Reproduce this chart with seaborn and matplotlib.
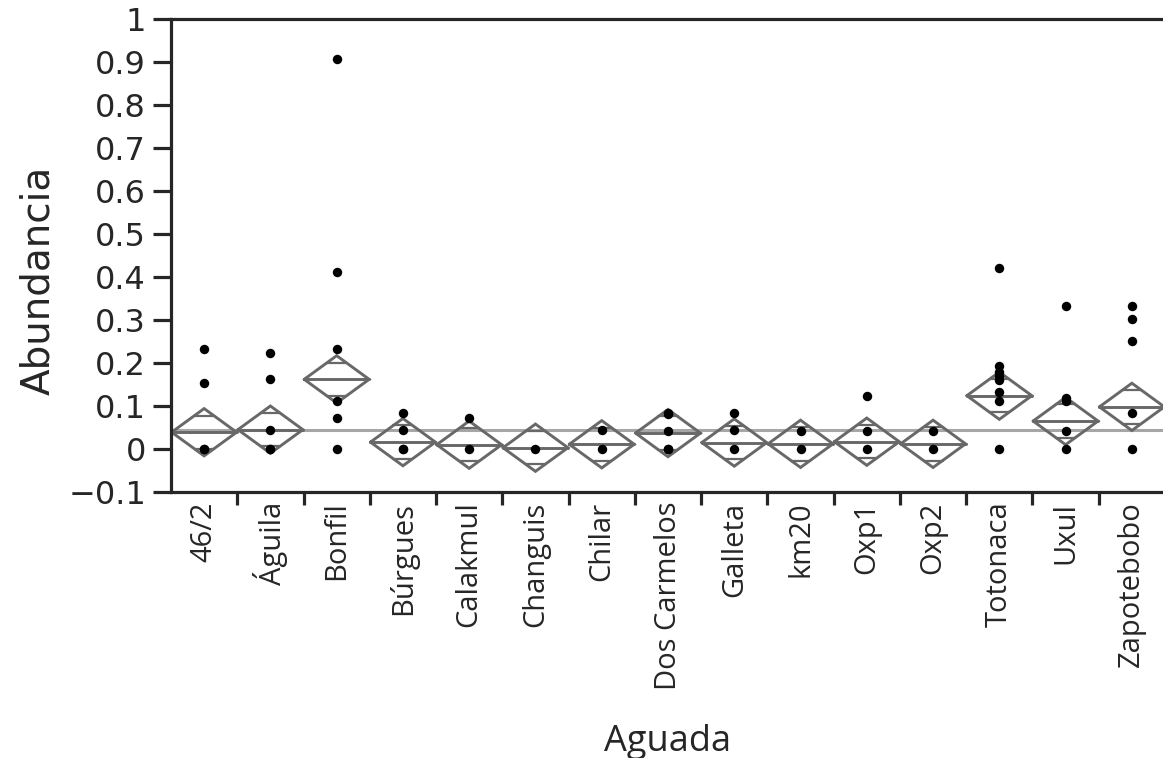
import numpy as np
import pandas as pd
import matplotlib
matplotlib.use("Agg")
import matplotlib.pyplot as plt
import seaborn as sns

# Sites (x categories)
aguadas = ["46/2", "Águila", "Bonfil", "Búrgues", "Calakmul", "Changuis", "Chilar",
           "Dos Carmelos", "Galleta", "km20", "Oxp1", "Oxp2", "Totonaca", "Uxul",
           "Zapotebobo"]

# Observed abundance values per site
obs_46_2 = [0.232, 0.153, 0.0, 0.0]
obs_aguila = [0.224, 0.162, 0.044, 0.0, 0.0]
obs_bonfil = [0.906, 0.411, 0.232, 0.112, 0.073, 0.0]
obs_burgues = [0.083, 0.044, 0.0, 0.0]
obs_calakmul = [0.073, 0.0]
obs_changuis = [0.0]
obs_chilar = [0.044, 0.0]
obs_dos_carmelos = [0.083, 0.081, 0.042, 0.0, 0.0]
obs_galleta = [0.083, 0.044, 0.0]
obs_km20 = [0.043, 0.0]
obs_oxp1 = [0.123, 0.043, 0.0]
obs_oxp2 = [0.043, 0.0]
obs_totonaca = [0.422, 0.193, 0.180, 0.170, 0.160, 0.133, 0.112, 0.0]
obs_uxul = [0.333, 0.118, 0.112, 0.043, 0.0]
obs_zapotebobo = [0.333, 0.302, 0.252, 0.083, 0.0]

# Group means and pooled 95% CI half-width (means diamonds)
group_means = [0.039, 0.045, 0.162, 0.016, 0.010, 0.003, 0.011, 0.037,
               0.015, 0.012, 0.017, 0.012, 0.124, 0.065, 0.098]
ci_half = 0.055
grand_mean = 0.044

y_ticks = [-0.1, 0.0, 0.1, 0.2, 0.3, 0.4, 0.5, 0.6, 0.7, 0.8, 0.9, 1.0]
y_tick_labels = ["\u22120.1", "0", "0.1", "0.2", "0.3", "0.4", "0.5", "0.6",
                 "0.7", "0.8", "0.9", "1"]

observations = [obs_46_2, obs_aguila, obs_bonfil, obs_burgues, obs_calakmul,
                obs_changuis, obs_chilar, obs_dos_carmelos, obs_galleta, obs_km20,
                obs_oxp1, obs_oxp2, obs_totonaca, obs_uxul, obs_zapotebobo]

df = pd.DataFrame({
    "Aguada": [a for a, vals in zip(aguadas, observations) for _ in vals],
    "Abundancia": [v for vals in observations for v in vals],
})

sns.set_style("white")
plt.rcParams["font.family"] = ["DejaVu Sans"]

W, H = 1163, 758
ink = "#262626"
fig = plt.figure(figsize=(W / 100, H / 100), dpi=100)
ax = fig.add_axes([171 / W, 1 - 492 / H, (1165 - 171) / W, (492 - 19) / H])

# Grand mean reference line
ax.axhline(grand_mean, color="#a6a6a6", lw=2.2, zorder=1)

# Means diamonds with overlap marks
diamond_color = "#686868"
half_w = 0.49
ov = ci_half / np.sqrt(2)
ov_w = half_w * (1 - 1 / np.sqrt(2))
for i, m in enumerate(group_means):
    ax.plot([i - half_w, i, i + half_w, i, i - half_w],
            [m, m + ci_half, m, m - ci_half, m],
            color=diamond_color, lw=2.1, zorder=2, solid_joinstyle="miter")
    ax.plot([i - half_w, i + half_w], [m, m], color=diamond_color, lw=2.1, zorder=2)
    for s in (1, -1):
        ax.plot([i - ov_w, i + ov_w], [m + s * ov, m + s * ov],
                color=diamond_color, lw=1.6, zorder=2)

# Individual observations
sns.stripplot(data=df, x="Aguada", y="Abundancia", order=aguadas, jitter=False,
              color="black", size=6.8, linewidth=0, ax=ax, zorder=5)

ax.set_xlim(-0.5, len(aguadas) - 0.5)
ax.set_ylim(-0.1, 1.0)

# Axes frame: left, bottom and top
for side in ("left", "bottom", "top"):
    ax.spines[side].set_visible(True)
    ax.spines[side].set_color(ink)
    ax.spines[side].set_linewidth(2.3)
ax.spines["right"].set_visible(False)

ax.set_yticks(y_ticks)
ax.set_yticklabels(y_tick_labels, fontsize=23, color=ink)
ax.tick_params(axis="y", direction="out", length=13, width=2.3, color=ink,
               pad=5, left=True)

ax.set_xticks(range(len(aguadas)))
ax.set_xticklabels(aguadas, rotation=90, fontsize=21, family="Open Sans",
                   color=ink, va="top", ha="center")
ax.tick_params(axis="x", which="major", length=0, pad=7)
ax.set_xticks(np.arange(0.5, len(aguadas) - 1, 1.0), minor=True)
ax.tick_params(axis="x", which="minor", direction="out", length=9, width=2.3,
               color=ink, bottom=True)

ax.set_xlabel("Aguada", fontsize=26, family="Open Sans", color=ink)
ax.xaxis.set_label_coords(0.5, -0.49)
ax.set_ylabel("Abundancia", fontsize=28, color=ink)
ax.yaxis.set_label_coords(-0.115, 0.448)

fig.savefig("out.png", dpi=100, facecolor="white")
